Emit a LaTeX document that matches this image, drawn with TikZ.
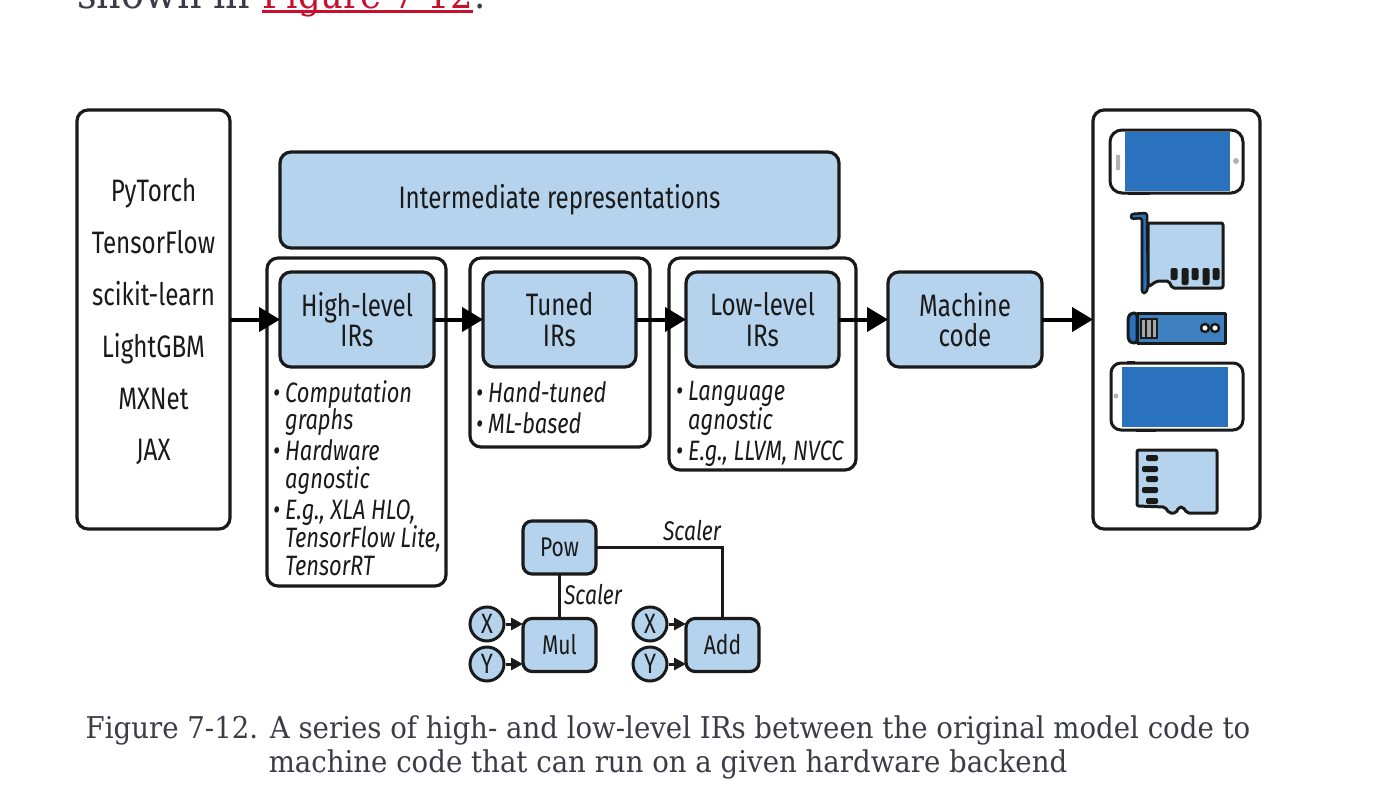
\documentclass[tikz,border=0pt]{standalone}
\usepackage{fontspec}
\usepackage{xcolor}
\usetikzlibrary{arrows.meta, positioning}
\setmainfont[FakeStretch=0.92]{DejaVu Serif}
\newfontfamily\labelfont[FakeStretch=0.78]{Fira Sans}
\definecolor{boxblue}{HTML}{B5D3EC}
\definecolor{screenblue}{HTML}{2A72BE}
\definecolor{midblue}{HTML}{3F80C0}
\definecolor{inkline}{HTML}{1A1A1A}
\definecolor{linkred}{HTML}{C8102E}
\definecolor{bodygrey}{HTML}{3C3C46}
\newcommand{\itm}{\makebox[12pt][l]{\textbullet}}
\tikzset{
	outline/.style={draw=inkline, line width=3.2pt, rounded corners=11pt, inner sep=0pt, outer sep=0pt},
	plainbox/.style={outline, fill=white},
	bluebox/.style={outline, fill=boxblue, align=center, text=inkline, font=\labelfont\fontsize{31}{30.5}\selectfont},
	smallbox/.style={bluebox, rounded corners=9pt, minimum width=73pt, minimum height=53pt, font=\labelfont\fontsize{27}{28}\selectfont},
	smallcirc/.style={circle, draw=inkline, line width=3pt, fill=boxblue, minimum size=34pt, inner sep=0pt, text=inkline, font=\labelfont\fontsize{28}{28}\selectfont},
	bullets/.style={anchor=north west, align=left, inner sep=0pt, text=inkline, font=\labelfont\itshape\fontsize{28}{27.5}\selectfont},
	flow/.style={line width=4pt, draw=black, -{Triangle[length=21pt, width=24pt]}},
	tiny/.style={line width=3pt, draw=inkline, -{Triangle[length=12pt, width=12pt]}},
	wire/.style={line width=3pt, draw=inkline},
	icon/.style={draw=inkline, line width=3pt, line join=round},
	toptext/.style={anchor=base west, inner sep=0pt, font=\fontsize{41.5}{44}\selectfont},
	captext/.style={anchor=base, inner sep=0pt, text=bodygrey, font=\fontsize{30}{34}\selectfont},
	scalertext/.style={anchor=base, inner sep=0pt, text=inkline, font=\labelfont\itshape\fontsize{27}{27}\selectfont},
}
\begin{document}
\begin{tikzpicture}[x=1pt, y=-1pt]
	\useasboundingbox (0,0) rectangle (1374,790);
	% Text above the figure:
	\node[toptext, text=bodygrey](Shown) at (77, 8){shown in};
	\node[toptext, text=linkred, font=\fontsize{38.6}{44}\selectfont](Link) at (262, 8){Figure 7-12};
	\node[toptext, text=bodygrey, font=\fontsize{38.6}{44}\selectfont] at ([xshift=1pt]Link.base east){.};
	\draw[linkred, line width=2.6pt] (Link.base west) ++(0,3.5) -- (Link.base east |- 0,11.5);
	% Outer boxes:
	\node[plainbox, minimum width=153pt, minimum height=419pt](Fw) at (153.5, 319.5){};
	\node[inner sep=0pt, align=center, text=inkline, font=\labelfont\fontsize{31}{51.8}\selectfont](FwList) at (153.5, 322){PyTorch\\TensorFlow\\scikit-learn\\LightGBM\\MXNet\\JAX};
	\node[plainbox, minimum width=167pt, minimum height=419pt](Hw) at (1176.5, 319.5){};
	\node[plainbox, minimum width=179pt, minimum height=328pt](GrpHigh) at (356.5, 422){};
	\node[plainbox, minimum width=180pt, minimum height=189pt](GrpTuned) at (560, 352.5){};
	\node[plainbox, minimum width=187pt, minimum height=212pt](GrpLow) at (762.5, 364){};
	% Blue boxes:
	\node[bluebox, minimum width=559pt, minimum height=96pt](IR) at (559.5, 200){Intermediate representations};
	\node[bluebox, minimum width=154pt, minimum height=95pt](High) at (357, 319.5){High-level\\IRs};
	\node[bluebox, minimum width=153pt, minimum height=95pt](Tuned) at (559.5, 319.5){Tuned\\IRs};
	\node[bluebox, minimum width=153pt, minimum height=95pt](Low) at (762.5, 319.5){Low-level\\IRs};
	\node[bluebox, minimum width=154pt, minimum height=95pt](Mach) at (965, 319.5){Machine\\code};
	% Arrows:
	\draw[flow] (Fw.east) -- (High.west);
	\draw[flow] (High.east) -- (Tuned.west);
	\draw[flow] (Tuned.east) -- (Low.west);
	\draw[flow] (Low.east) -- (Mach.west);
	\draw[flow] (Mach.east) -- (Hw.west);
	% Lists:
	\node[bullets](ListHigh) at (273, 380){\itm Computation\\\hspace*{12pt}graphs\\[3.5pt]\itm Hardware\\\hspace*{12pt}agnostic\\[3.5pt]\itm E.g., XLA HLO,\\\hspace*{12pt}TensorFlow Lite,\\\hspace*{12pt}TensorRT};
	\node[bullets](ListTuned) at (476, 381){\itm Hand-tuned\\[3.5pt]\itm ML-based};
	\node[bullets](ListLow) at (676, 381.5){\itm Language\\\hspace*{12pt}agnostic\\[3.5pt]\itm E.g., LLVM, NVCC};
	% Small graph:
	\node[smallbox](Pow) at (559.5, 547.5){Pow};
	\node[smallbox](Mul) at (559.5, 645){Mul};
	\node[smallbox](Add) at (722.5, 645){Add};
	\node[smallcirc](X1) at (487, 624){X};
	\node[smallcirc](Y1) at (487, 664){Y};
	\node[smallcirc](X2) at (650, 624){X};
	\node[smallcirc](Y2) at (650, 664){Y};
	\draw[tiny] (X1.east) -- (X1.east -| Mul.west);
	\draw[tiny] (Y1.east) -- (Y1.east -| Mul.west);
	\draw[tiny] (X2.east) -- (X2.east -| Add.west);
	\draw[tiny] (Y2.east) -- (Y2.east -| Add.west);
	\draw[wire] (Pow) -- (Mul);
	\draw[wire] (Pow.east) -| (Add.north);
	\node[scalertext](ScA) at (692, 540){Scaler};
	\node[scalertext](ScB) at (593, 604){Scaler};
	% Phone:
	\draw[icon, line width=2.4pt] (1128,194) -- (1150,194);
	\draw[icon, fill=white, rounded corners=12pt] (1110,130) rectangle (1243,193);
	\fill[screenblue] (1125,132) rectangle (1230,191);
	\fill[gray!60] (1116,155) rectangle (1120,170) (1236,161) circle (3);
	% Card:
	\draw[icon, fill=boxblue, rounded corners=2pt] (1148,223) -- (1223,223) -- (1223,288) -- (1172,288) -- (1169,281) -- (1157,281) -- (1148,287) -- cycle;
	\draw[icon, fill=screenblue, line width=2.6pt, rounded corners=2.5pt] (1131,214) -- (1147,213) -- (1148,287) -- (1146,293) -- (1142,293) -- (1142,218) -- (1131,219) -- cycle;
	\foreach \xc/\yb in {1174/280, 1185/285, 1195/280, 1206/285, 1216/280}
		\fill[inkline, rounded corners=2pt] (\xc-3.5,268) rectangle (\xc+3.5,\yb);
	% Module:
	\draw[icon, fill=midblue] (1137,313) -- (1225,313) -- (1225,343) -- (1137,343) -- cycle;
	\draw[icon, fill=screenblue, rounded corners=3pt] (1137,313) -- (1131,313) -- (1128,317) -- (1128,339) -- (1131,343) -- (1137,343) -- cycle;
	\draw[inkline, fill=gray!70, line width=2pt] (1141,319) rectangle (1157,338);
	\draw[inkline, line width=2pt] (1146.3,319) -- (1146.3,338) (1151.6,319) -- (1151.6,338);
	\draw[inkline, fill=white, line width=2.5pt] (1205,328) circle (4) (1215,328) circle (4);
	% Tablet:
	\draw[icon, line width=2.4pt] (1136,431) -- (1156,431) (1127,362) -- (1135,362);
	\draw[icon, fill=white, rounded corners=10pt] (1111,363) rectangle (1243,430);
	\fill[screenblue] (1122,367) rectangle (1228,427);
	\fill[gray!60] (1116,396) circle (2.5);
	% Memory card:
	\draw[icon, fill=boxblue, rounded corners=2pt] (1137,450) -- (1217,450) -- (1217,513) -- (1187,513) -- (1183,507) -- (1179,507) -- (1176,513) -- (1169,513) -- (1165,507) -- (1137,506) -- cycle;
	\foreach \yc/\xa in {458/1146, 469/1142, 479/1146, 490/1142, 501/1146}
		\fill[inkline, rounded corners=2pt] (\xa,\yc-3) rectangle (1158,\yc+3);
	% Caption:
	\node[captext](CapA) at (668, 738){Figure 7-12. A series of high- and low-level IRs between the original model code to};
	\node[captext](CapB) at (668, 772){machine code that can run on a given hardware backend};
\end{tikzpicture}
\end{document}
